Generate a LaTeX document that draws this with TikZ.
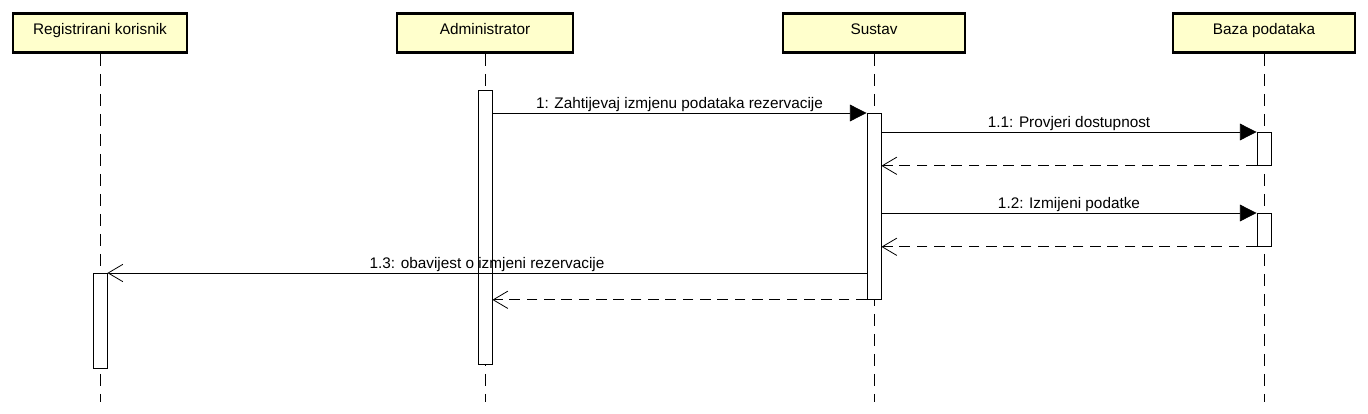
\documentclass[tikz,border=0pt]{standalone}
\usepackage{fontspec}
\setmainfont{Liberation Sans}
\usetikzlibrary{arrows.meta}

\tikzset{
	actor/.style = {draw, line width=2.2pt, fill=boxyellow, minimum width=#1, minimum height=29pt, inner sep=0pt, text height=8pt, text depth=5pt},
	act/.style = {draw, line width=0.6pt, fill=white, minimum width=10.5pt, anchor=north, inner sep=0pt},
	life/.style = {line width=0.6pt, dash pattern=on 9pt off 6pt},
	call/.style = {line width=0.6pt, -{Triangle[length=12.5pt,width=12.5pt]}},
	note/.style = {line width=0.6pt, -{Straight Barb[length=11pt,width=13pt,line width=0.6pt]}},
	reply/.style = {note, dash pattern=on 8pt off 5pt},
	lbl/.style = {font=\fontsize{11.5}{13}\selectfont, inner sep=1pt, anchor=south}
}
\definecolor{boxyellow}{RGB}{255,255,204}

\begin{document}
\begin{tikzpicture}[x=0.75pt, y=-0.75pt]
	\useasboundingbox (0,0) rectangle (1368,414);
		\node[actor=130.5pt, lbl, anchor=center] (kor) at (100,33) {Registrirani korisnik};
		\node[actor=132pt, lbl, anchor=center] (adm) at (485,33) {Administrator};
		\node[actor=136.5pt, lbl, anchor=center] (sus) at (874,33) {Sustav};
		\node[actor=136.5pt, lbl, anchor=center] (baz) at (1264,33) {Baza podataka};
	% lifelines
		\coordinate (korEnd) at (100,402);
		\coordinate (admEnd) at (485,402);
		\coordinate (susEnd) at (874,402);
		\coordinate (bazEnd) at (1264,402);
		\draw[life] (kor.south) -- (korEnd);
		\draw[life] (adm.south) -- (admEnd);
		\draw[life] (sus.south) -- (susEnd);
		\draw[life] (baz.south) -- (bazEnd);
	% activations
		\node[act, minimum height=71.25pt] (actK) at (100,273) {};
		\node[act, minimum height=205.5pt] (actA) at (485,90) {};
		\node[act, minimum height=139.5pt] (actS) at (874,113) {};
		\node[act, minimum height=24.75pt] (actB1) at (1264,132) {};
		\node[act, minimum height=24.75pt] (actB2) at (1264,213) {};
	% messages
		\draw[call] (actA.east |- 0,113) -- node[lbl] {1: Zahtijevaj izmjenu podataka rezervacije} (actS.north west);
		\draw[call] (actS.east |- 0,132) -- node[lbl] {1.1: Provjeri dostupnost} (actB1.north west);
		\draw[reply] (actB1.south west) -- (actS.east |- actB1.south);
		\draw[call] (actS.east |- 0,213) -- node[lbl] {1.2: Izmijeni podatke} (actB2.north west);
		\draw[reply] (actB2.south west) -- (actS.east |- actB2.south);
		\draw[note] (actS.west |- 0,273) -- node[lbl] {1.3: obavijest o izmjeni rezervacije} (actK.north east);
		\draw[reply] (actS.south west) -- (actA.east |- actS.south);
\end{tikzpicture}
\end{document}
